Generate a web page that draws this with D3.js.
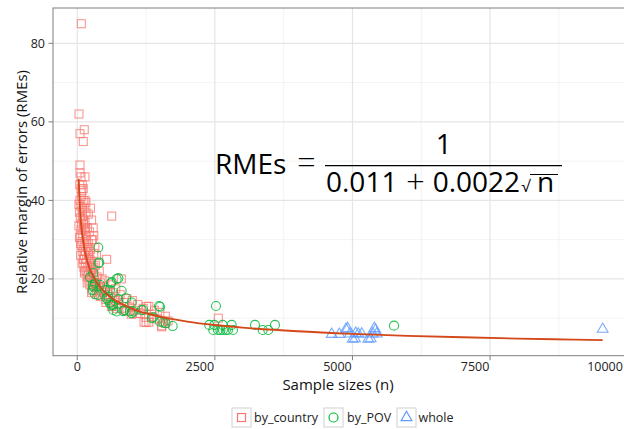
<!DOCTYPE html>
<html><head><meta charset="utf-8">
<script src="https://cdn.jsdelivr.net/npm/d3@7"></script>
<style>
html,body{margin:0;padding:0;background:#fff;}
svg{display:block;font-family:"Open Sans",sans-serif;}
</style></head>
<body><svg id="c" width="624" height="429"></svg>
<script>
// ---- data ----
const countryN   = [73,31,127,49,109,49,49,140,67,91,67,109,85,
  49,109,140,158,30,67,127,91,40,158,200,625,55,109,140,80,30,185,67,127,220,100,55,160,40,260,90,140,200,70,120,180,240,100,150,300,60,130,200,534,110,170,250,90,150,220,330,120,190,280,160,240,400,130,200,300,180,360,250,450,800,210,320,500,280,420,230,350,600,300,480,700,380,550,260,450,650,350,500,780,420,600,900,520,700,1000,600,850,750,1100,1300,650,950,1200,800,1050,1400,1500,900,1150,1350,1600,1250,1450,1550,1300,1600,1250,1533,1650,2562,1261,1212,1533,1350,
  45,75,95,115,60,150,170,210,260,120,135,230,300,340,180,270,390,440,560,520,680,620,720,880,980,1080,
  290,280,320,260,240,350,300];
const countryRME = [85,62,58,57,55,49,47,46,46,44,43,43,42.5,
  40,40,40,39.5,39,38.5,38,37.5,37,37,36.5,36,35.5,35,34.5,34,33.5,33,32.5,32.5,32,31.5,31,31,30.5,30,29.5,29,29,28.5,28,28,27.5,27,27,26.5,26,26,26,25,25,25,24.5,24,24,23.5,23.5,23,23,22.5,22,22,22,21.5,21,21,20.5,20.5,20,20,20,19.5,19.5,19.5,19,19,18.5,18.5,18.5,18,18,17.5,17,17,16.5,16.5,16.5,16,16,16,15.5,15.5,15,14.8,14.5,14.5,14,14,13.5,13.5,13,13,12.8,12.5,12.5,12,12,11.5,11.8,11.2,11,10.5,10.2,9.8,9.2,9,8.7,8.9,7.8,9.3,10,13,9,8.1,10.4,
  44,41,36,34,29,33,30,27,24,25,22,25,23,19,19,17,18,17,16,14,15,13,12.5,12,11,11.2,
  33,30,28,35,38,26,31];
const povN   = [382,382,400,322,280,322,382,291,412,612,716,747,625,594,806,534,563,625,654,654,745,836,885,988,957,988,1170,1199,1381,1351,1484,1503,1502,1563,1606,1733,
  231,291,280,503,563,594,716,854,1017,
  2520,2398,2489,2642,2805,2471,2556,2600,2647,2700,2738,2829,3229,3369,3470,3592,5755];
const povRME = [28,24,24.2,18.9,18.5,16.1,15.9,18,18.5,18.9,20,20.2,19.2,17.2,17,15.1,14.6,13.4,12.1,13.4,14.8,11.8,15.1,14,11.7,11.3,12.1,12.1,10.2,10,13.1,12.9,9.1,8.9,8.7,8.0,
  20.4,21.5,17.2,17.2,15.5,13.8,11.7,12.1,11.7,
  13.1,8.3,8.3,8.3,8.3,7.0,7.0,7.0,7.0,7.0,7.0,7.0,8.3,7.0,7.0,8.3,8.1];
const wholeN   = [4622,4760,4882,4913,4955,5004,5046,5060,5106,5168,5288,5331,5367,5397,5420,5440,9546];
const wholeRME = [5.9,5.9,7.2,7.4,6.0,4.7,4.8,6.2,6.0,6.0,4.7,4.8,6.0,7.4,7.0,6.0,7.2];
const fitN   = [25,50,100,200,300,400,600,800,1000,1500,2000,2500,3000,4000,5000,6000,7000,8000,9000,9546];
const fitRME = [45.5,37.6,30.3,23.7,20.4,18.2,15.4,13.7,12.4,10.4,9.14,8.26,7.60,6.66,6.00,5.51,5.13,4.81,4.55,4.42];
const xTicks = [0,2500,5000,7500,10000];
const xMinor = [1250,3750,6250,8750];
const yTicks = [20,40,60,80];
const yMinor = [10,30,50,70];
const groups = ["by_country","by_POV","whole"];
const colors = ["#F8766D","#00BA38","#619CFF"];

const svg = d3.select("#c");
const L=53, R=628, T=8, B=355.7;
const x = d3.scaleLinear().domain([-441,10006]).range([L,R]);
const y = d3.scaleLinear().domain([0.45,89]).range([B,T]);

// grid
const g = svg.append("g");
g.selectAll(".ym").data(yMinor).join("line").attr("x1",L).attr("x2",R).attr("y1",d=>y(d)).attr("y2",d=>y(d)).attr("stroke","#F3F3F3").attr("stroke-width",1);
g.selectAll(".xm").data(xMinor).join("line").attr("y1",T).attr("y2",B).attr("x1",d=>x(d)).attr("x2",d=>x(d)).attr("stroke","#F3F3F3").attr("stroke-width",1);
g.selectAll(".yM").data(yTicks).join("line").attr("x1",L).attr("x2",R).attr("y1",d=>y(d)).attr("y2",d=>y(d)).attr("stroke","#E5E5E5").attr("stroke-width",1.2);
g.selectAll(".xM").data(xTicks).join("line").attr("y1",T).attr("y2",B).attr("x1",d=>x(d)).attr("x2",d=>x(d)).attr("stroke","#E5E5E5").attr("stroke-width",1.2);

// points
const pts = svg.append("g").attr("fill","none").attr("stroke-width",1.1);
pts.selectAll(".sq").data(d3.zip(countryN,countryRME)).join("rect")
  .attr("x",d=>x(d[0])-4).attr("y",d=>y(d[1])-4).attr("width",8).attr("height",8)
  .attr("stroke",colors[0]).attr("stroke-opacity",0.75);
pts.selectAll(".ci").data(d3.zip(povN,povRME)).join("circle")
  .attr("cx",d=>x(d[0])).attr("cy",d=>y(d[1])).attr("r",4.5)
  .attr("stroke",colors[1]).attr("stroke-opacity",0.85);
const tri = d3.symbol().type(d3.symbolTriangle).size(50);
pts.selectAll(".tr").data(d3.zip(wholeN,wholeRME)).join("path")
  .attr("d",tri).attr("transform",d=>`translate(${x(d[0])},${y(d[1])})`)
  .attr("stroke",colors[2]).attr("stroke-opacity",0.85);

// fit line
svg.append("path").datum(d3.zip(fitN,fitRME))
  .attr("d",d3.line().x(d=>x(d[0])).y(d=>y(d[1])).curve(d3.curveMonotoneX))
  .attr("fill","none").attr("stroke","#D4481A").attr("stroke-width",1.9);

// border
svg.append("rect").attr("x",L).attr("y",T).attr("width",R-L).attr("height",B-T)
  .attr("fill","none").attr("stroke","#7F7F7F").attr("stroke-width",1);

// axes
const ax = svg.append("g").attr("font-size",12.5).attr("fill","#222");
ax.selectAll(".xt").data(xTicks).join("line").attr("x1",d=>x(d)).attr("x2",d=>x(d)).attr("y1",B).attr("y2",B+4.5).attr("stroke","#7F7F7F");
ax.selectAll(".xl").data(xTicks).join("text")
  .attr("x",d=>Math.min(x(d)-(String(d).length-1)*5, 605))
  .attr("y",B+15.5)
  .attr("text-anchor","middle").text(d=>d);
ax.selectAll(".yt").data(yTicks).join("line").attr("y1",d=>y(d)).attr("y2",d=>y(d)).attr("x1",L-4.5).attr("x2",L).attr("stroke","#7F7F7F");
ax.selectAll(".yl").data(yTicks).join("text").attr("x",L-8).attr("y",d=>y(d)+4.5)
  .attr("text-anchor","end").text(d=>d);

svg.append("text").attr("x",338).attr("y",390).attr("text-anchor","middle").attr("font-size",15).attr("fill","#111").text("Sample sizes (n)");
svg.append("text").attr("transform","translate(27,182) rotate(-90)").attr("text-anchor","middle").attr("font-size",15).attr("fill","#111").text("Relative margin of errors (RMEs)");

// equation
const eq = svg.append("g").attr("font-size",28).attr("fill","#000");
eq.append("text").attr("x",215).attr("y",173.5).text("RMEs");
eq.append("text").attr("x",297).attr("y",174).attr("font-size",33).attr("font-weight",300).text("=");
eq.append("text").attr("x",443.7).attr("y",154).attr("text-anchor","middle").text("1");
eq.append("line").attr("x1",325).attr("x2",562).attr("y1",165.7).attr("y2",165.7).attr("stroke","#000").attr("stroke-width",1.3);
eq.append("text").attr("x",326).attr("y",192).text("0.011");
eq.append("text").attr("x",415.5).attr("y",192.5).attr("text-anchor","middle").attr("font-size",33).attr("font-weight",300).text("+");
eq.append("text").attr("x",432.7).attr("y",192).text("0.0022");
eq.append("text").attr("x",521.5).attr("y",191.5).attr("font-size",16).text("\u221A");
eq.append("text").attr("x",537).attr("y",192).text("n");
eq.append("line").attr("x1",530).attr("x2",558).attr("y1",174.5).attr("y2",174.5).attr("stroke","#000").attr("stroke-width",1);

// legend
const lg = svg.append("g").attr("font-size",12.5);
const keyX = [232,324,397], txtX=[254,347,418.5];
groups.forEach((gname,i)=>{
  lg.append("rect").attr("x",keyX[i]).attr("y",408).attr("width",19).attr("height",19).attr("fill","#FFFFFF").attr("stroke","#D0D0D0");
  const cx = keyX[i]+9.5, cy=417.5;
  if(i===0) lg.append("rect").attr("x",cx-4).attr("y",cy-4).attr("width",8).attr("height",8).attr("fill","none").attr("stroke",colors[0]).attr("stroke-width",1.2);
  if(i===1) lg.append("circle").attr("cx",cx).attr("cy",cy).attr("r",4.5).attr("fill","none").attr("stroke",colors[1]).attr("stroke-width",1.2);
  if(i===2) lg.append("path").attr("d",tri).attr("transform",`translate(${cx},${cy})`).attr("fill","none").attr("stroke",colors[2]).attr("stroke-width",1.2);
  lg.append("text").attr("x",txtX[i]).attr("y",422).attr("fill","#222").text(gname);
});
</script></body></html>
